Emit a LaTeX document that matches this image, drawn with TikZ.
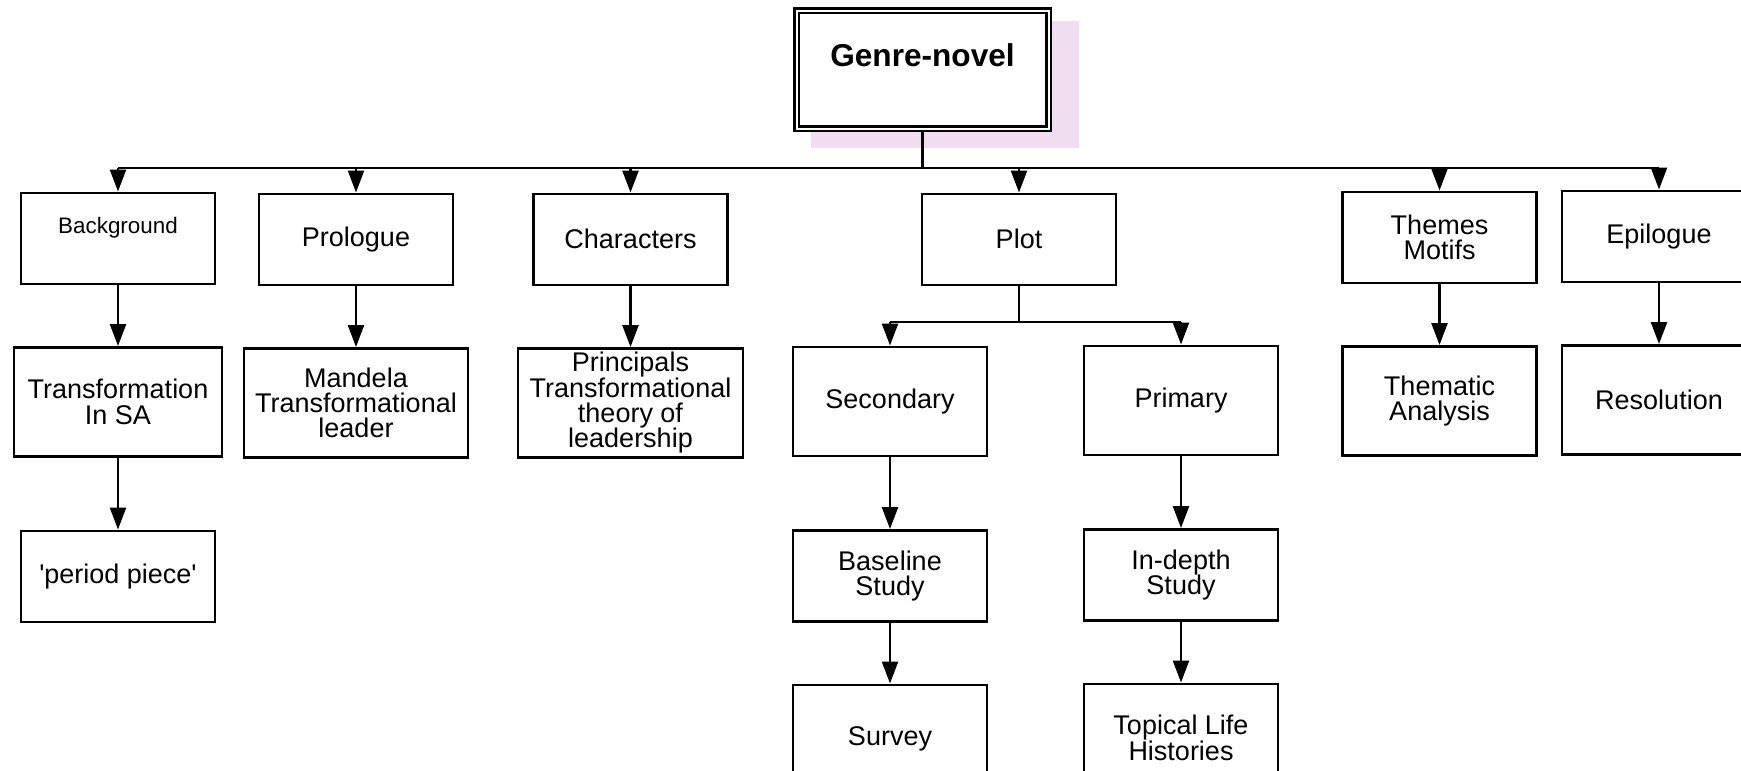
\documentclass[tikz,border=0pt]{standalone}
\usepackage{fontspec}
\setmainfont{Liberation Sans}
\usetikzlibrary{arrows.meta,positioning,backgrounds}
\definecolor{shadowpink}{RGB}{240,222,240}

\begin{document}
\begin{tikzpicture}[x=0.5pt,y=-0.5pt,line width=1.25pt,>={Triangle[length=11pt,width=8pt]},
  node distance=30.5pt,
  box/.style={draw,fill=white,align=center,inner sep=1pt,minimum width=97pt,minimum height=45.5pt,
    font=\fontsize{13.5pt}{12.6pt}\selectfont},
  tall box/.style={box,minimum height=54.5pt}]

  \path[use as bounding box,clip] (0,0) rectangle (1741,771);

  % title
  \node[draw,double,double distance=1pt,line width=1.2pt,fill=white,inner sep=0pt,
    minimum width=126pt,text height=28pt,text depth=31pt,
    font=\fontsize{15.8pt}{16pt}\selectfont\bfseries] (genre) at (922.5,69.5) {Genre-novel};
  \begin{scope}[on background layer]
    \fill[shadowpink] ([shift={(16,12)}]genre.north west) rectangle ([shift={(29,18)}]genre.south east);
  \end{scope}

  % first row
  \node[box,inner sep=0pt,text height=20pt,text depth=25pt,font=\fontsize{11.2pt}{12pt}\selectfont,
    anchor=north] (bg) at (118,191.5) {Background};
  \node[box,anchor=north] (pro) at (356,192.5) {Prologue};
  \node[box,anchor=north] (chr) at (630.5,192.5) {Characters};
  \node[box,anchor=north] (plot) at (1019,192.5) {Plot};
  \node[box,anchor=north] (thm) at (1439.5,190.5) {Themes\\Motifs};
  \node[box,anchor=north] (epi) at (1659,189.5) {Epilogue};

  % second row
  \node[tall box,minimum width=104pt] (trans) [below=of bg] {Transformation\\In SA};
  \node[tall box,minimum width=112pt] (mand) [below=of pro] {Mandela\\Transformational\\leader};
  \node[tall box,minimum width=112.5pt,inner sep=0pt] (prin) [below=of chr] {Principals\\Transformational\\theory of\\leadership};
  \node[tall box,anchor=north] (sec) at (890,345.5) {Secondary};
  \node[tall box,anchor=north] (pri) at (1181,344.5) {Primary};
  \node[tall box] (thma) [below=of thm] {Thematic\\Analysis};
  \node[tall box] (res) [below=of epi] {Resolution};

  % lower rows
  \node[box] (per) [below=36pt of trans] {\textquotesingle period piece\textquotesingle};
  \node[box] (base) [below=36pt of sec] {Baseline\\Study};
  \node[box] (indep) [below=36pt of pri] {In-depth\\Study};
  \node[box,minimum height=54pt] (surv) [below=of base] {Survey};
  \node[box,minimum height=54pt] (topic) [below=of indep] {Topical Life\\Histories};

  % connectors
  \coordinate (bus) at (0,168);
  \coordinate (sub) at (0,322);
  \draw (genre.south) -- (genre.south |- bus);
  \draw (bg.north |- bus) -- (epi.north |- bus);
  \foreach \n in {bg,pro,chr,plot,thm,epi}
    \draw[->] (\n.north |- bus) -- (\n.north);
  \draw (plot.south) -- (plot.south |- sub);
  \draw (sec.north |- sub) -- (pri.north |- sub);
  \foreach \n in {sec,pri}
    \draw[->] (\n.north |- sub) -- (\n.north);
  \foreach \a/\b in {bg/trans,trans/per,pro/mand,chr/prin,thm/thma,epi/res,sec/base,base/surv,pri/indep,indep/topic}
    \draw[->] (\a) -- (\b);

\end{tikzpicture}
\end{document}
